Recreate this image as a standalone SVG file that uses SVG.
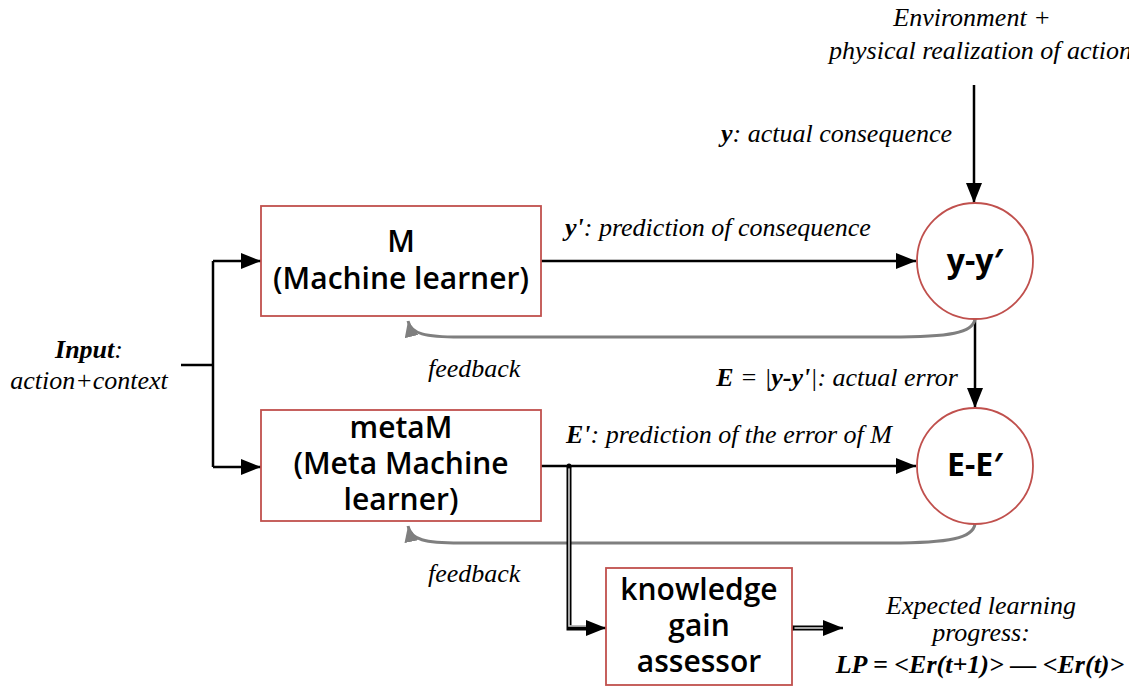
<svg xmlns="http://www.w3.org/2000/svg" width="1129" height="688" viewBox="0 0 1129 688">
<style>
.box{fill:#fff;stroke:#c0504d;stroke-width:1.8}
.nt{font-family:"Open Sans","Noto Sans",sans-serif;font-weight:600;font-size:30px;fill:#000;text-anchor:middle}
.ct{font-family:"Open Sans","Noto Sans",sans-serif;font-weight:700;font-size:32px;fill:#000;text-anchor:middle}
.lb{font-family:"Liberation Serif","Times New Roman",serif;font-style:italic;font-size:26px;fill:#000}
.b{font-weight:bold}
.ln{fill:none;stroke:#000;stroke-width:2.5}
.fb{fill:none;stroke:#7f7f7f;stroke-width:3}
.dbo{fill:none;stroke:#000;stroke-width:5}
.dbi{fill:none;stroke:#d0d0d0;stroke-width:1.6}
</style>
<defs>
<marker id="ah" viewBox="0 0 20 16" refX="20" refY="8" markerWidth="20" markerHeight="16" markerUnits="userSpaceOnUse" orient="auto">
<path d="M0,0 L20,8 L0,16 z" fill="#000"/>
</marker>
<marker id="gh" viewBox="0 0 16 14" refX="16" refY="7" markerWidth="16" markerHeight="14" markerUnits="userSpaceOnUse" orient="auto">
<path d="M0,0 L16,7 L0,14 z" fill="#7f7f7f"/>
</marker>
</defs>

<g id="connectors">
<path class="ln" d="M181,365 H213"/>
<path class="ln" d="M213,261 V467"/>
<path class="ln" d="M213,261 H261" marker-end="url(#ah)"/>
<path class="ln" d="M213,467 H261" marker-end="url(#ah)"/>
<path class="ln" d="M541,261 H916" marker-end="url(#ah)"/>
<path class="ln" d="M541,466 H916" marker-end="url(#ah)"/>
<path class="ln" d="M974,85 V203" marker-end="url(#ah)"/>
<path class="ln" d="M975,319 V408" marker-end="url(#ah)"/>
<path class="fb" d="M975,319 C973,333 950,337 890,337 L460,337 C425,337 411,334 408,321" marker-end="url(#gh)"/>
<path class="fb" d="M975,524 C973,538 950,543 890,543 L460,543 C425,543 411,540 408,526" marker-end="url(#gh)"/>
<path class="dbo" d="M569,466 V628 H586"/>
<path class="dbi" d="M569,468 V626 H588"/>
<path class="ln" d="M586,628 H606" marker-end="url(#ah)"/>
<circle cx="569" cy="466" r="2.5" fill="#000"/>
<path class="dbo" d="M792,628 H824"/>
<path class="dbi" d="M794,628 H826"/>
<path class="ln" d="M823,628 H843" marker-end="url(#ah)"/>
<circle cx="792" cy="628" r="2.5" fill="#000"/>
</g>

<g id="node-M">
<rect class="box" x="261" y="206" width="280" height="110"/>
<text class="nt" x="401" y="252">M</text>
<text class="nt" x="401" y="289">(Machine learner)</text>
</g>

<g id="node-metaM">
<rect class="box" x="261" y="410" width="280" height="111"/>
<text class="nt" x="401" y="438">metaM</text>
<text class="nt" x="401" y="474">(Meta Machine</text>
<text class="nt" x="401" y="510">learner)</text>
</g>

<g id="node-yy">
<circle class="box" cx="975" cy="261" r="58"/>
<text class="ct" x="975" y="272">y-y′</text>
</g>

<g id="node-EE">
<circle class="box" cx="975" cy="466" r="58"/>
<text class="ct" x="975" y="476">E-E′</text>
</g>

<g id="node-kga">
<rect class="box" x="606" y="568" width="186" height="117"/>
<text class="nt" x="699" y="600">knowledge</text>
<text class="nt" x="699" y="636">gain</text>
<text class="nt" x="699" y="672">assessor</text>
</g>

<g id="labels">
<text class="lb" x="972" y="26" text-anchor="middle">Environment +</text>
<text class="lb" x="829" y="59">physical realization of action</text>
<text class="lb" x="952" y="142" text-anchor="end"><tspan class="b">y</tspan>: actual consequence</text>
<text class="lb" x="565" y="236"><tspan class="b">y'</tspan>: prediction of consequence</text>
<text class="lb" x="428" y="377">feedback</text>
<text class="lb" x="958" y="386" text-anchor="end"><tspan class="b">E</tspan> = |<tspan class="b">y-y'</tspan>|: actual error</text>
<text class="lb" x="566" y="443"><tspan class="b">E'</tspan>: prediction of the error of M</text>
<text class="lb" x="428" y="582">feedback</text>
<text class="lb" x="89" y="358" text-anchor="middle"><tspan class="b">Input</tspan>:</text>
<text class="lb" x="89" y="389" text-anchor="middle">action+context</text>
<text class="lb" x="981" y="614" text-anchor="middle">Expected learning</text>
<text class="lb" x="981" y="641" text-anchor="middle">progress:</text>
<text class="lb b" x="980" y="673" text-anchor="middle">LP = &lt;Er(t+1)&gt; — &lt;Er(t)&gt;</text>
</g>
</svg>
